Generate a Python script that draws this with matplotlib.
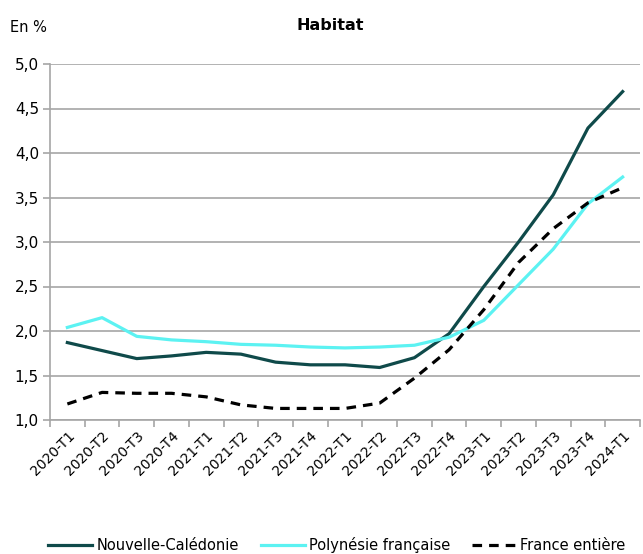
import matplotlib
matplotlib.use("Agg")
import matplotlib.pyplot as plt
import numpy as np

categories = ["2020-T1", "2020-T2", "2020-T3", "2020-T4", "2021-T1", "2021-T2",
              "2021-T3", "2021-T4", "2022-T1", "2022-T2", "2022-T3", "2022-T4",
              "2023-T1", "2023-T2", "2023-T3", "2023-T4", "2024-T1"]
nouvelle_caledonie = [1.87, 1.78, 1.69, 1.72, 1.76, 1.74, 1.65, 1.62, 1.62, 1.59,
                      1.70, 1.97, 2.50, 3.00, 3.53, 4.28, 4.69]
polynesie = [2.04, 2.15, 1.94, 1.90, 1.88, 1.85, 1.84, 1.82, 1.81, 1.82,
             1.84, 1.93, 2.12, 2.52, 2.92, 3.43, 3.73]
france = [1.18, 1.31, 1.30, 1.30, 1.26, 1.17, 1.13, 1.13, 1.13, 1.19,
          1.47, 1.79, 2.24, 2.77, 3.15, 3.44, 3.61]
yticks = [1.0, 1.5, 2.0, 2.5, 3.0, 3.5, 4.0, 4.5, 5.0]

plt.rcParams['font.family'] = ['DejaVu Sans']

W, H = 643, 554
fig = plt.figure(figsize=(W / 100, H / 100), dpi=100)
ax = fig.add_axes([50 / W, 1 - 420 / H, (640 - 50) / W, (420 - 64) / H])

x = np.arange(len(categories))
l1, = ax.plot(x, nouvelle_caledonie, color="#0f4a4a", lw=2.3, label="Nouvelle-Calédonie")
l2, = ax.plot(x, polynesie, color="#5cf2f2", lw=2.3, label="Polynésie française")
l3, = ax.plot(x, france, color="black", lw=2.3, dashes=(3, 2.2), label="France entière")

ax.set_xlim(-0.5, len(categories) - 0.5)
ax.set_ylim(1.0, 5.0)
ax.set_yticks(yticks)
ax.set_yticklabels([f"{v:.1f}".replace(".", ",") for v in yticks], fontsize=11)
ax.yaxis.grid(True, color="#a6a6a6", lw=1.2)
ax.set_axisbelow(True)

ax.set_xticks(x)
ax.set_xticklabels(categories, rotation=45, ha="right", rotation_mode="anchor", fontsize=10)
ax.set_xticks(np.arange(len(categories) + 1) - 0.5, minor=True)
ax.tick_params(axis="x", which="major", length=0, pad=6)
ax.tick_params(axis="x", which="minor", length=5, color="#a6a6a6", width=1.2)
ax.tick_params(axis="y", length=5, color="#a6a6a6", width=1.2, pad=3)

for s in ["top", "right"]:
    ax.spines[s].set_visible(False)
for s in ["left", "bottom"]:
    ax.spines[s].set_color("#a6a6a6")
    ax.spines[s].set_linewidth(1.2)

fig.text(330 / W, 1 - 25 / H, "Habitat", ha="center", va="center", fontsize=11.5, fontweight="bold")
fig.text(10 / W, 1 - 28 / H, "En %", ha="left", va="center", fontsize=10.5)

fig.legend(handles=[l1, l2, l3], loc="center", bbox_to_anchor=(337 / W, 1 - 545 / H),
           ncol=3, frameon=False, fontsize=10.5, handlelength=3.0, handletextpad=0.3,
           columnspacing=1.5)

fig.savefig("out.png", dpi=100)
